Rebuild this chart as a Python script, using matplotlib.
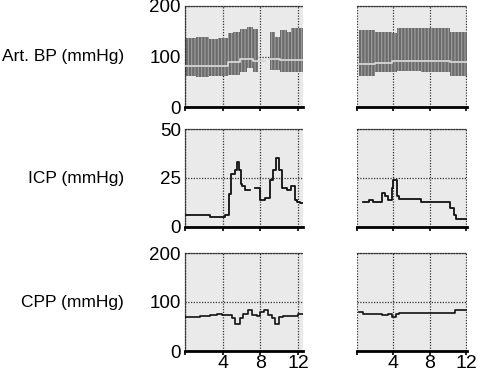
import numpy as np
import matplotlib
matplotlib.use("Agg")
import matplotlib.pyplot as plt

plt.rcParams['font.family'] = ['Liberation Sans', 'DejaVu Sans']
plt.rcParams['hatch.linewidth'] = 0.8

# ---------------- data ----------------
row_labels = ["Art. BP (mmHg)", "ICP (mmHg)", "CPP (mmHg)"]
x_ticks = [0, 4, 8, 12]
x_tick_labels = ["", "4", "8", "12"]
y_ticks = [[0, 100, 200], [0, 25, 50], [0, 100, 200]]

# Left column, arterial BP band (step data, NaN = gap)
bp_l_x = [0, 1.2, 2.5, 3.5, 4.6, 5.13, 5.84, 6.55, 7.25, 7.78, 8.5, 9.0, 9.56, 10.1, 10.8, 11.3, 12.56]
bp_l_sys = [136, 138, 135, 137, 146, 149, 155, 159, 155, 157, np.nan, 149, 139, 152, 149, 156, 156]
bp_l_dia = [61, 60, 62, 61, 63, 63, 70, 77, 70, 68, np.nan, 73, 73, 70, 70, 70, 70]
bp_l_mean = [81, 81, 81, 82, 90, 90, 95, 96, 91, 91, np.nan, 96, 96, 93, 93, 93, 93]

# Right column, arterial BP band
bp_r_x = [0.25, 2.02, 3.82, 4.35, 7.0, 10.27, 12.1]
bp_r_sys = [152, 149, 146, 156, 157, 149, 149]
bp_r_dia = [61, 70, 70, 71, 70, 61, 61]
bp_r_mean = [86, 87, 91, 92, 92, 90, 90]

# Left column ICP
icp_l_x = [0, 2.65, 4.25, 4.7, 4.85, 4.95, 5.3, 5.5, 5.77, 5.9, 6.0, 6.37, 6.9,
           7.43, 7.96, 8.14, 8.5, 9.0, 9.38, 9.66, 10.0, 10.26, 10.8, 11.3, 11.68, 11.86, 12.2, 12.56]
icp_l_y = [6, 5, 6, 17, 27, 27, 29, 33, 29, 22, 21, 19, np.nan,
           20, 14, 14, 15, 24, 29, 35, 29, 20, 19, 21, 14, 13, 12, 12]

# Right column ICP
icp_r_x = [0.66, 1.31, 1.74, 2.74, 3.03, 3.46, 3.82, 4.0, 4.35, 4.6, 5.07, 7.04, 10.27, 10.63, 10.9, 11.53, 12.1]
icp_r_y = [12.6, 14, 12.6, 17.5, 16, 14, 19.7, 24, 15.8, 14.5, 14.1, 12.9, 9.5, 6.1, 3.9, 4.2, 4.2]

# Left column CPP
cpp_l_x = [0, 1.59, 2.65, 3.36, 3.89, 4.95, 5.3, 5.84, 6.19, 6.72, 7.08, 7.6, 7.96, 8.39, 8.85, 9.2,
           9.56, 10.0, 10.37, 11.3, 12.03, 12.56]
cpp_l_y = [70, 71, 73.5, 75.5, 73.5, 67, 55, 67, 75, 84, 73.5, 71, 80, 84, 73.5, 67,
           55, 69, 72, 71, 76, 76]

# Right column CPP
cpp_r_x = [0.25, 0.66, 1.85, 2.74, 3.46, 3.89, 4.25, 4.6, 10.8, 12.1]
cpp_r_y = [80, 75.5, 76.5, 73, 75.5, 68.7, 75.5, 78, 83.7, 83.7]

# ---------------- layout ----------------
W, H = 478, 373
fig = plt.figure(figsize=(W / 100, H / 100), dpi=100)

rows_px = [(6, 107), (129, 227), (253, 351)]
cols_px = [(185, 303), (357, 467)]
xlims = [(0, 12.53), (0.27, 12.1)]
ylims = [(0, 200), (0, 50), (0, 200)]

bg = '#eaeaea'
grid_color = '#333333'


def make_ax(r, c):
    (t, b) = rows_px[r]
    (l, rr) = cols_px[c]
    ax = fig.add_axes([l / W, 1 - b / H, (rr - l) / W, (b - t) / H])
    ax.set_facecolor(bg)
    ax.set_xlim(*xlims[c])
    ax.set_ylim(*ylims[r])
    ax.set_yticks(y_ticks[r])
    ax.set_xticks(x_ticks)
    ax.grid(True, linestyle=(0, (1, 1.2)), color=grid_color, linewidth=0.9)
    ax.set_axisbelow(True)
    for s in ['top', 'left']:
        ax.spines[s].set_linestyle((0, (1, 1.2)))
        ax.spines[s].set_color(grid_color)
        ax.spines[s].set_linewidth(0.9)
    ax.spines['right'].set_visible(False)
    if c == 1:
        ax.spines['left'].set_visible(False)
    ax.spines['bottom'].set_linewidth(2.0)
    ax.spines['bottom'].set_color('black')
    ax.tick_params(axis='y', length=0, pad=3, labelsize=13.5)
    ax.tick_params(axis='x', length=3, width=1.2, direction='out', pad=0)
    if c == 0:
        ax.set_yticklabels([str(v) for v in y_ticks[r]])
    else:
        ax.set_yticklabels([])
    if r == 2:
        ax.set_xticklabels(x_tick_labels, fontsize=14)
    else:
        ax.set_xticklabels([])
    return ax


def bp_band(ax, x, sys_, dia, mean):
    ax.fill_between(x, dia, sys_, step='post', facecolor='#6a6a6a',
                    edgecolor='#a0a0a0', hatch='|||||', linewidth=0, zorder=2)
    ax.plot(x, mean, drawstyle='steps-post', color='#d6d6d6', lw=1.3, zorder=3)


axes = {}
for r in range(3):
    for c in range(2):
        axes[(r, c)] = make_ax(r, c)

bp_band(axes[(0, 0)], bp_l_x, bp_l_sys, bp_l_dia, bp_l_mean)
bp_band(axes[(0, 1)], bp_r_x, bp_r_sys, bp_r_dia, bp_r_mean)

axes[(1, 0)].plot(icp_l_x, icp_l_y, drawstyle='steps-post', color='#111111', lw=1.3, zorder=3)
axes[(1, 1)].plot(icp_r_x, icp_r_y, drawstyle='steps-post', color='#111111', lw=1.3, zorder=3)
axes[(2, 0)].plot(cpp_l_x, cpp_l_y, drawstyle='steps-post', color='#111111', lw=1.2, zorder=3)
axes[(2, 1)].plot(cpp_r_x, cpp_r_y, drawstyle='steps-post', color='#111111', lw=1.2, zorder=3)

for r, lab in enumerate(row_labels):
    t, b = rows_px[r]
    fig.text(124 / W, 1 - ((t + b) / 2) / H, lab, ha='right', va='center', fontsize=12.5)

fig.savefig('out.png', dpi=100, facecolor='white')
